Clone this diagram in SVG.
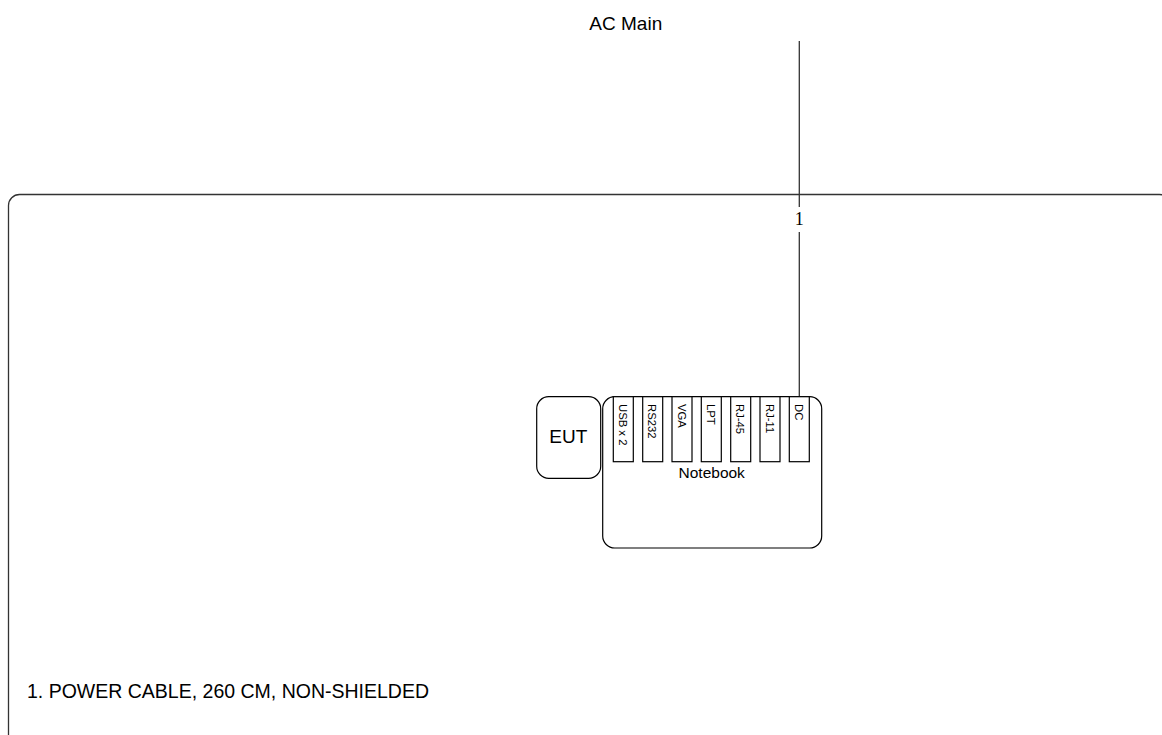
<svg xmlns="http://www.w3.org/2000/svg" width="1162" height="735" viewBox="0 0 1162 735">
<style>
.ln{fill:none;stroke:#333;stroke-width:1.3}
.box{fill:#fff;stroke:#000;stroke-width:1.2}
.t{font-family:"Liberation Sans",Arial,sans-serif;fill:#000}
.port{font-family:"Liberation Sans",Arial,sans-serif;font-size:11.3px;fill:#000}
</style>
<rect width="1162" height="735" fill="#fff"/>
<g id="frame"><rect class="ln" x="8.5" y="194.5" width="1162" height="600" rx="11"/></g>
<text class="t" x="625.8" y="30" font-size="19" text-anchor="middle">AC Main</text>
<g id="connectors">
<line class="ln" x1="799.3" y1="41" x2="799.3" y2="207"/>
<line class="ln" x1="799.3" y1="232" x2="799.3" y2="397"/>
<text x="799.3" y="225" font-family="Liberation Serif,Times New Roman,serif" font-size="18" text-anchor="middle">1</text>
</g>
<g id="eut"><rect class="box" x="536.7" y="396.7" width="64" height="81.6" rx="12"/>
<text class="t" x="568.3" y="443.3" font-size="19" text-anchor="middle">EUT</text></g>
<g id="notebook"><rect class="box" x="602.7" y="396.7" width="219" height="151.3" rx="12"/>
<text class="t" x="711.7" y="478.3" font-size="15.5" text-anchor="middle">Notebook</text>
<g id="p-usb"><rect class="box" x="613.3" y="396.7" width="20" height="65"/><text class="port" transform="translate(619,404) rotate(90)">USB x 2</text></g>
<g id="p-rs232"><rect class="box" x="642.7" y="396.7" width="20" height="65"/><text class="port" transform="translate(648.4,404) rotate(90)">RS232</text></g>
<g id="p-vga"><rect class="box" x="672" y="396.7" width="20" height="65"/><text class="port" transform="translate(677.7,404) rotate(90)">VGA</text></g>
<g id="p-lpt"><rect class="box" x="701.3" y="396.7" width="20" height="65"/><text class="port" transform="translate(707,404) rotate(90)">LPT</text></g>
<g id="p-rj45"><rect class="box" x="730.7" y="396.7" width="20" height="65"/><text class="port" transform="translate(736.4,404) rotate(90)">RJ-45</text></g>
<g id="p-rj11"><rect class="box" x="760" y="396.7" width="20" height="65"/><text class="port" transform="translate(765.7,404) rotate(90)">RJ-11</text></g>
<g id="p-dc"><rect class="box" x="789.3" y="396.7" width="20" height="65"/><text class="port" transform="translate(795,404) rotate(90)">DC</text></g>
</g>
<text class="t" x="27" y="698" font-size="19.5">1. POWER CABLE, 260 CM, NON-SHIELDED</text>
</svg>
